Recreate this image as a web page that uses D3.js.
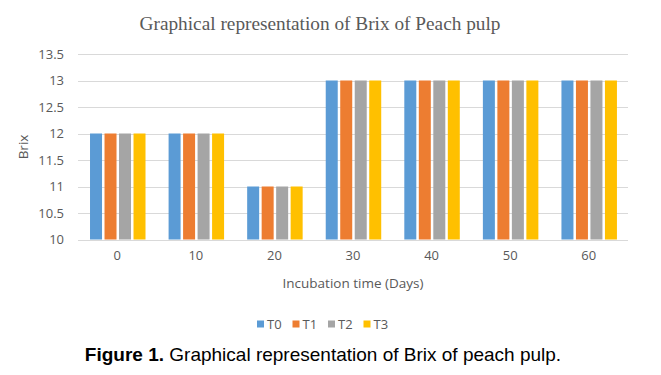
<!DOCTYPE html>
<html>
<head>
<meta charset="utf-8">
<script src="https://cdn.jsdelivr.net/npm/d3@7"></script>
<style>
  body { margin: 0; background: #fff; }
</style>
</head>
<body>
<div id="chart"></div>
<script>
// data
var days = ['0', '10', '20', '30', '40', '50', '60'];
var series = ['T0', 'T1', 'T2', 'T3'];
var T0 = [12, 12, 11, 13, 13, 13, 13];
var T1 = [12, 12, 11, 13, 13, 13, 13];
var T2 = [12, 12, 11, 13, 13, 13, 13];
var T3 = [12, 12, 11, 13, 13, 13, 13];
var yTicks = [10, 10.5, 11, 11.5, 12, 12.5, 13, 13.5];
var colors = ['#5B9BD5', '#ED7D31', '#A5A5A5', '#FFC000'];

var width = 661, height = 375;
var margin = {top: 54, right: 33, bottom: 136, left: 78};
var sans = '"Open Sans", "Noto Sans", sans-serif';

var svg = d3.select('#chart').append('svg')
  .attr('width', width)
  .attr('height', height);

var data = days.map(function(d, i) {
  return {day: d, values: [T0[i], T1[i], T2[i], T3[i]]};
});

var x0 = d3.scaleBand()
  .domain(days)
  .range([margin.left, width - margin.right])
  .padding(0);

var x1 = d3.scaleBand()
  .domain(series)
  .range([x0.bandwidth() * 0.153, x0.bandwidth() * 0.891]);

var y = d3.scaleLinear()
  .domain([10, 13.5])
  .range([height - margin.bottom + 0.5, margin.top]);

// gridlines
svg.append('g')
  .selectAll('line')
  .data(yTicks)
  .enter()
  .append('line')
  .attr('x1', margin.left)
  .attr('x2', width - margin.right)
  .attr('y1', function(d) { return Math.round(y(d)) + 0.5; })
  .attr('y2', function(d) { return Math.round(y(d)) + 0.5; })
  .attr('stroke', '#d9d9d9')
  .attr('stroke-width', 1);

// y axis labels
var yAxis = d3.axisLeft(y)
  .tickValues(yTicks)
  .tickSize(0)
  .tickPadding(0)
  .tickFormat(function(d) { return String(d); });

svg.append('g')
  .attr('transform', 'translate(' + (margin.left - 14) + ',0)')
  .call(yAxis)
  .call(function(g) { g.select('.domain').remove(); })
  .selectAll('text')
  .style('font-size', '13px')
  .style('fill', '#595959')
  .style('font-family', sans);

// bars
var groups = svg.append('g')
  .selectAll('g')
  .data(data)
  .enter()
  .append('g')
  .attr('transform', function(d) { return 'translate(' + x0(d.day) + ',0)'; });

groups.selectAll('rect')
  .data(function(d) {
    return d.values.map(function(v, i) { return {key: series[i], value: v, idx: i}; });
  })
  .enter()
  .append('rect')
  .attr('x', function(d) { return x1(d.key); })
  .attr('y', function(d) { return y(d.value); })
  .attr('width', x1.bandwidth() - 2.5)
  .attr('height', function(d) { return y(10) - y(d.value); })
  .attr('fill', function(d) { return colors[d.idx]; });

// x axis labels
var xAxis = d3.axisBottom(x0).tickSize(0).tickPadding(0);
svg.append('g')
  .attr('transform', 'translate(0,' + (y(10) + 11) + ')')
  .call(xAxis)
  .call(function(g) { g.select('.domain').remove(); })
  .selectAll('text')
  .style('font-size', '13px')
  .style('fill', '#595959')
  .style('font-family', sans);

// axis titles
svg.append('text')
  .attr('x', (margin.left + width - margin.right) / 2)
  .attr('y', 288)
  .attr('text-anchor', 'middle')
  .style('font-family', sans)
  .style('font-size', '13.5px')
  .style('fill', '#595959')
  .text('Incubation time (Days)');

svg.append('text')
  .attr('transform', 'translate(28,147) rotate(-90)')
  .attr('text-anchor', 'middle')
  .style('font-family', sans)
  .style('font-size', '13.5px')
  .style('fill', '#595959')
  .text('Brix');

// chart title
svg.append('text')
  .attr('x', 320)
  .attr('y', 30)
  .attr('text-anchor', 'middle')
  .style('font-family', '"Liberation Serif", "DejaVu Serif", serif')
  .style('font-size', '19.3px')
  .style('fill', '#595959')
  .text('Graphical representation of Brix of Peach pulp');

// legend
var legend = svg.append('g')
  .attr('transform', 'translate(257,324)');

var item = legend.selectAll('g')
  .data(series)
  .enter()
  .append('g')
  .attr('transform', function(d, i) { return 'translate(' + (i * 35.5) + ',0)'; });

item.append('rect')
  .attr('x', 0)
  .attr('y', -3.5)
  .attr('width', 7)
  .attr('height', 7)
  .attr('fill', function(d, i) { return colors[i]; });

item.append('text')
  .attr('x', 10)
  .attr('y', 5)
  .style('font-family', sans)
  .style('font-size', '13px')
  .style('fill', '#595959')
  .text(function(d) { return d; });

// caption
var cap = svg.append('text')
  .attr('x', 323)
  .attr('y', 361)
  .attr('text-anchor', 'middle')
  .style('font-family', '"Liberation Sans", Arial, sans-serif')
  .style('font-size', '19px')
  .style('fill', '#000');

cap.append('tspan')
  .style('font-weight', 'bold')
  .text('Figure 1.');
cap.append('tspan')
  .text(' Graphical representation of Brix of peach pulp.');
</script>
</body>
</html>
